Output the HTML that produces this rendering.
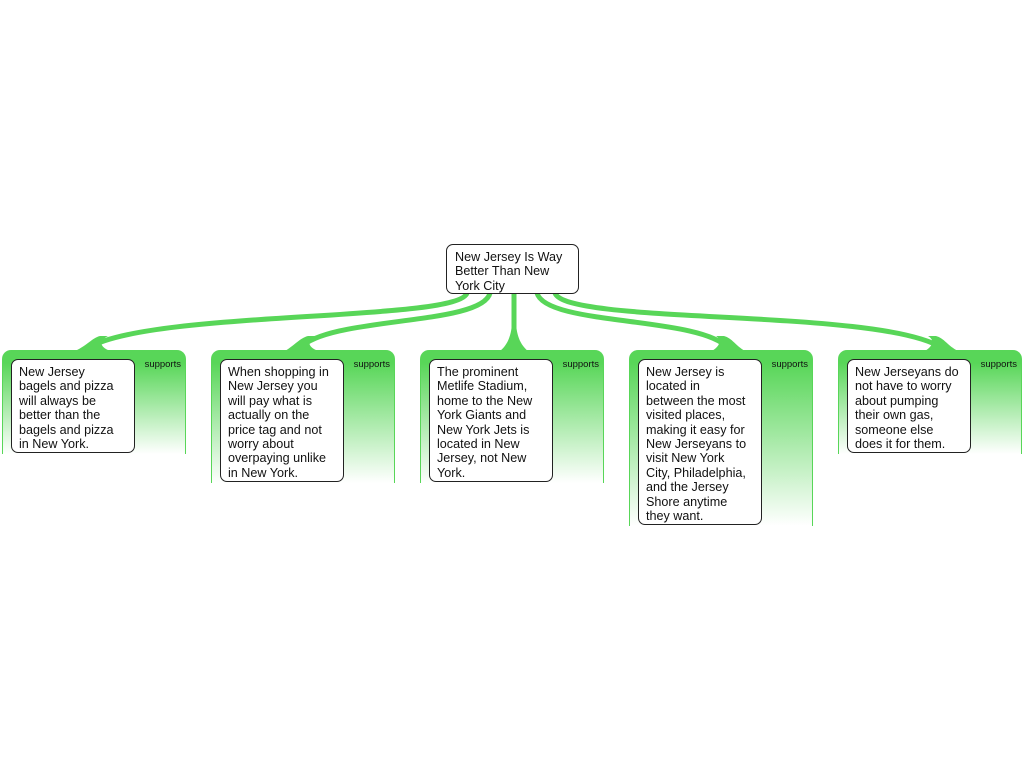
<!DOCTYPE html>
<html><head><style>
body{margin:0;width:1024px;height:768px;background:#fff;position:relative;overflow:hidden;font-family:"Liberation Sans",Arial,sans-serif;}
.c{position:absolute;top:350px;width:182px;border:1px solid #58d658;border-bottom:none;border-radius:9px 9px 0 0;background:linear-gradient(#58d658 0px,#58d658 12px,#ffffff 100%);}
.b{position:absolute;left:8px;top:8px;width:108px;background:#fff;border:1px solid #222;border-radius:7px;padding:5px 7px 1px 7px;font-size:12.6px;line-height:14.4px;color:#111;white-space:nowrap;}
.s{position:absolute;right:4px;top:8px;font-size:9.5px;color:#111;}
.r{position:absolute;left:446px;top:244px;width:116px;height:37px;background:#fff;border:1px solid #222;border-radius:7px;padding:5px 7px 6px 8px;font-size:12.6px;line-height:14.4px;color:#111;white-space:nowrap;}
</style></head><body>
<svg width="1024" height="768" style="position:absolute;left:0;top:0">
<g fill="none" stroke="#58d658" stroke-width="5">
<path d="M467,293 C458,322 150,310 88,348"/>
<path d="M490,293 C482,326 330,316 300,348"/>
<path d="M514,293 L514,348"/>
<path d="M537,293 C546,326 700,316 728,348"/>
<path d="M555,293 C566,325 880,308 942,348"/>
</g>
<g fill="#58d658">
<path d="M75,351 C88,345 92,338 100,336 L108,336 C100,340 98,346 110,351Z"/>
<path d="M285,351 C295,345 300,338 308,336 L316,336 C308,340 306,346 318,351Z"/>
<path d="M500,351 C510,343 512,330 512,320 L516,320 C516,330 518,343 528,351Z"/>
<path d="M712,351 C720,346 722,340 716,336 L724,336 C732,338 736,346 745,351Z"/>
<path d="M925,351 C933,346 935,340 928,336 L936,336 C944,338 948,346 958,351Z"/>
</g>
</svg>
<div class="r">New Jersey Is Way<br>Better Than New<br>York City</div>
<div class="c" style="left:2px;height:103px"><div class="s">supports</div><div class="b">New Jersey<br>bagels and pizza<br>will always be<br>better than the<br>bagels and pizza<br>in New York.</div></div>
<div class="c" style="left:211px;height:132px"><div class="s">supports</div><div class="b">When shopping in<br>New Jersey you<br>will pay what is<br>actually on the<br>price tag and not<br>worry about<br>overpaying unlike<br>in New York.</div></div>
<div class="c" style="left:420px;height:132px"><div class="s">supports</div><div class="b">The prominent<br>Metlife Stadium,<br>home to the New<br>York Giants and<br>New York Jets is<br>located in New<br>Jersey, not New<br>York.</div></div>
<div class="c" style="left:629px;height:175px"><div class="s">supports</div><div class="b">New Jersey is<br>located in<br>between the most<br>visited places,<br>making it easy for<br>New Jerseyans to<br>visit New York<br>City, Philadelphia,<br>and the Jersey<br>Shore anytime<br>they want.</div></div>
<div class="c" style="left:838px;height:103px"><div class="s">supports</div><div class="b">New Jerseyans do<br>not have to worry<br>about pumping<br>their own gas,<br>someone else<br>does it for them.</div></div>
</body></html>
